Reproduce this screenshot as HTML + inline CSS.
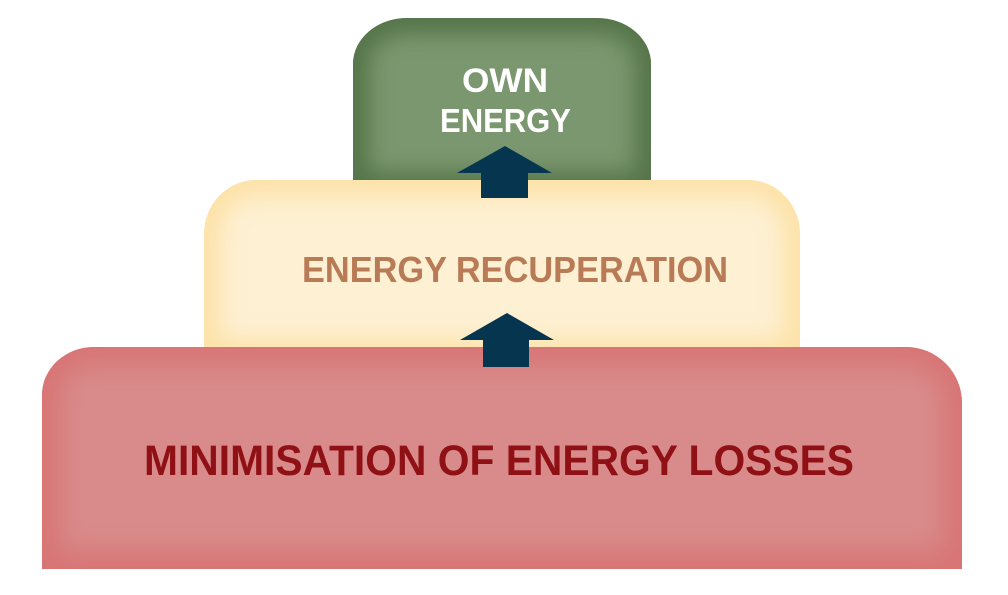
<!DOCTYPE html>
<html>
<head>
<meta charset="utf-8">
<style>
  html, body { margin:0; padding:0; background:#ffffff; }
  body { width:1008px; height:595px; position:relative; overflow:hidden; }
  .box { position:absolute; box-sizing:border-box; }
  #green {
    left:353px; top:18px; width:298px; height:170px;
    border-radius:54px 54px 0 0 / 46px 46px 0 0;
    background:#7b976f;
    box-shadow: inset 0 0 22px 16px #56754a;
  }
  #yellow {
    left:204px; top:180px; width:596px; height:176px;
    border-radius:52px 52px 0 0 / 54px 54px 0 0;
    background:#fdf0d3;
    box-shadow: inset 0 0 24px 16px #fde2a8;
  }
  #red {
    left:42px; top:347px; width:920px; height:222px;
    border-radius:52px 56px 0 0 / 48px 56px 0 0;
    background:#d98b8b;
    box-shadow: inset 0 0 26px 18px #d87575;
  }
  svg { position:absolute; left:0; top:0; }
  text { font-family:"Liberation Sans", sans-serif; font-weight:bold; }
</style>
</head>
<body>
  <div class="box" id="green"></div>
  <div class="box" id="yellow"></div>
  <div class="box" id="red"></div>
  <svg width="1008" height="595" viewBox="0 0 1008 595">
    <!-- arrow 1 -->
    <polygon points="505,146 552,173 528,173 528,198 481,198 481,173 457,173" fill="#05354f"/>
    <!-- arrow 2 -->
    <polygon points="507,313 554,340 529,340 529,367 483,367 483,340 460,340" fill="#05354f"/>
    <text x="462" y="92" font-size="34" fill="#ffffff" textLength="86" lengthAdjust="spacingAndGlyphs">OWN</text>
    <text x="440" y="132" font-size="33" fill="#ffffff" textLength="131" lengthAdjust="spacingAndGlyphs">ENERGY</text>
    <text x="302" y="282" font-size="36" fill="#b97a56" textLength="426" lengthAdjust="spacingAndGlyphs">ENERGY RECUPERATION</text>
    <text x="144" y="475" font-size="43" fill="#8f1015" textLength="710" lengthAdjust="spacingAndGlyphs">MINIMISATION OF ENERGY LOSSES</text>
  </svg>
</body>
</html>
